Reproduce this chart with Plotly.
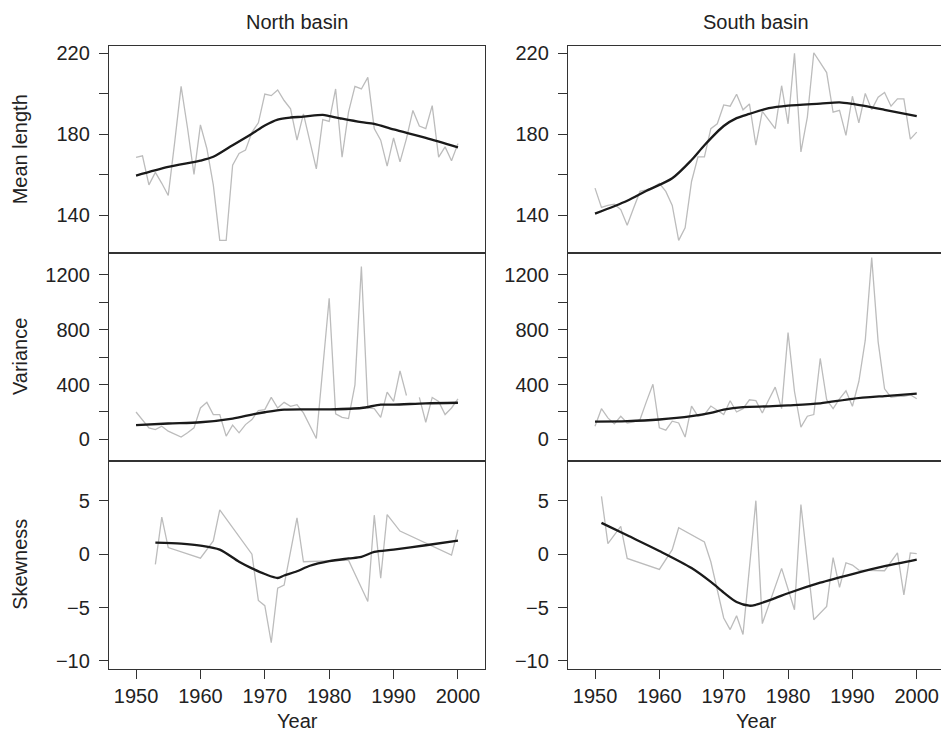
import plotly.graph_objects as go

# ---------------- data ----------------
years = list(range(1950, 2001))

north_mean = [168.6, 169.4, 155.0, 161.2, 155.8, 149.8, 176.0, 203.7, 183.0, 160.2,
              184.7, 173.0, 155.0, 127.6, 127.6, 164.8, 170.5, 172.2, 181.0, 185.7,
              199.9, 199.1, 201.9, 196.7, 192.6, 177.1, 190.1, 176.2, 162.9, 187.3,
              186.4, 202.4, 168.7, 191.0, 203.7, 202.4, 208.1, 182.8, 177.1, 164.3,
              178.2, 166.4, 177.9, 191.8, 184.1, 182.8, 194.2, 168.7, 173.8, 166.9,
              175.4]
south_mean = [153.4, 143.9, 144.9, 145.5, 142.8, 135.1, 143.6, 151.8, 152.6, 153.7,
              155.8, 151.8, 144.9, 127.6, 133.8, 156.7, 168.9, 168.9, 182.8, 185.2,
              194.5, 193.9, 199.8, 192.1, 195.0, 174.6, 191.3, 186.9, 182.8, 204.0,
              185.2, 220.0, 171.3, 188.5, 220.3, 215.4, 210.5, 190.9, 191.8, 179.5,
              198.8, 185.7, 200.2, 192.2, 198.3, 200.7, 193.9, 197.5, 197.5, 177.6,
              181.1]
north_var = [200, 140, 84, 72, 96, 60, 36, 17, 48, 84,
             229, 270, 181, 181, 24, 104, 48, 108, 145, 210,
             217, 306, 229, 270, 241, 253, 193, 96, 7, 518,
             1029, 186, 161, 152, 398, 1260, 229, 224, 161, 345,
             277, 499, 320, None, 306, 125, 306, 277, 181, 229,
             296]
south_var = [96, 224, 157, 113, 169, 120, 128, 145, 277, 402,
             84, 67, 133, 120, 17, 243, 169, 181, 243, 210,
             181, 282, 200, 224, 289, 282, 193, 289, 381, 224,
             778, 349, 89, 169, 181, 590, 289, 224, 296, 354,
             241, 422, 723, 1325, 711, 369, 306, 313, 313, 325,
             296]

north_skew_years = [1953, 1954, 1955, 1960, 1962, 1963, 1968, 1969, 1970, 1971, 1972,
                    1973, 1975, 1976, 1983, 1986, 1987, 1988, 1989, 1991, 1999, 2000]
north_skew = [-0.96, 3.47, 0.62, -0.37, 1.24, 4.15, 0.0, -4.34, -4.83, -8.3, -3.19,
              -2.9, 3.4, -0.71, -0.56, -4.43, 3.66, -2.26, 3.72, 2.17, -0.09, 2.29]
south_skew_years = [1951, 1952, 1954, 1955, 1960, 1962, 1963, 1967, 1968, 1970, 1971,
                    1972, 1973, 1975, 1976, 1979, 1981, 1982, 1984, 1986, 1987, 1988,
                    1989, 1990, 1991, 1992, 1995, 1997, 1998, 1999, 2000]
south_skew = [5.42, 0.99, 2.6, -0.4, -1.43, 0.43, 2.48, 1.15, -0.71, -5.98, -7.07,
              -5.77, -7.53, 5.02, -6.51, -1.33, -5.21, 4.65, -6.14, -4.9, -0.31, -3.1,
              -0.8, -1.02, -1.49, -1.49, -1.55, 0.12, -3.81, 0.12, 0.06]

# smoothed trends
nm_s_years = [1950, 1955, 1960, 1962, 1965, 1968, 1970, 1972, 1974, 1976, 1979, 1980,
              1982, 1985, 1987, 1990, 1995, 2000]
nm_s = [159.6, 163.9, 167.0, 168.9, 174.6, 180.3, 184.4, 187.3, 188.3, 188.7, 189.6,
        189.0, 187.7, 186.0, 185.2, 182.4, 178.2, 173.5]
sm_s_years = [1950, 1955, 1958, 1962, 1965, 1967, 1970, 1972, 1974, 1977, 1980, 1985,
              1988, 1990, 1995, 2000]
sm_s = [140.8, 147.2, 152.1, 158.3, 167.3, 174.6, 184.1, 188.0, 190.1, 192.9, 194.2,
        195.2, 195.8, 195.0, 192.1, 189.0]
nv_s_years = [1950, 1955, 1960, 1965, 1968, 1970, 1973, 1980, 1985, 1988, 1990, 1995, 2000]
nv_s = [104, 116, 125, 152, 181, 198, 217, 219, 229, 253, 253, 263, 267]
sv_s_years = [1950, 1955, 1960, 1965, 1968, 1970, 1973, 1977, 1980, 1985, 1990, 1995, 2000]
sv_s = [130, 133, 145, 169, 193, 217, 236, 241, 248, 263, 296, 316, 333]
ns_s_years = [1953, 1957, 1960, 1963, 1966, 1968, 1970, 1972, 1973, 1975, 1977, 1980,
              1983, 1985, 1987, 1990, 1995, 2000]
ns_s = [1.08, 0.99, 0.81, 0.43, -0.71, -1.33, -1.86, -2.23, -2.0, -1.6, -1.08, -0.65,
        -0.4, -0.25, 0.22, 0.43, 0.84, 1.27]
ss_s_years = [1951, 1955, 1960, 1965, 1968, 1970, 1972, 1974, 1975, 1978, 1980, 1985,
              1990, 1995, 2000]
ss_s = [2.94, 1.77, 0.3, -1.3, -2.6, -3.6, -4.49, -4.83, -4.74, -4.12, -3.66, -2.67,
        -1.86, -1.12, -0.5]

col_titles = ["North basin", "South basin"]
row_titles = ["Mean length", "Variance", "Skewness"]
x_ticks = [1950, 1960, 1970, 1980, 1990, 2000]

# ---------------- figure ----------------
W, H = 941, 734
GREY = "#bcbcbc"
BLACK = "#1a1a1a"
AX = "#333333"
FONT = "Liberation Sans, Arial, Helvetica, sans-serif"
FS = 20

col_px = [(109, 485), (568, 941)]
row_px = [(43, 252), (252, 462), (462, 671)]
x_ranges = [[1945.8, 2004.2], [1945.8, 2003.77]]
y_ranges = [[121.4, 223.8], [-159, 1359], [-10.72, 8.72]]
y_tickvals = [[140, 160, 180, 200, 220],
              [0, 200, 400, 600, 800, 1000, 1200],
              [-10, -5, 0, 5]]
y_ticktext = [["140", "", "180", "", "220"],
              ["0", "", "400", "", "800", "", "1200"],
              ["\u221210", "\u22125", "0", "5"]]

panels = [
    [(years, north_mean, nm_s_years, nm_s), (years, south_mean, sm_s_years, sm_s)],
    [(years, north_var, nv_s_years, nv_s), (years, south_var, sv_s_years, sv_s)],
    [(north_skew_years, north_skew, ns_s_years, ns_s),
     (south_skew_years, south_skew, ss_s_years, ss_s)],
]

fig = go.Figure()
layout = dict(width=W, height=H, autosize=False,
              margin=dict(l=0, r=0, t=0, b=0),
              paper_bgcolor="white", plot_bgcolor="white",
              showlegend=False,
              font=dict(family=FONT, size=FS, color="#222222"))

for r in range(3):
    for c in range(2):
        idx = r * 2 + c + 1
        xa = "x" if idx == 1 else f"x{idx}"
        ya = "y" if idx == 1 else f"y{idx}"
        gx, gy, sx, sy = panels[r][c]
        fig.add_trace(go.Scatter(x=gx, y=gy, mode="lines", xaxis=xa, yaxis=ya,
                                 line=dict(color=GREY, width=1.3),
                                 connectgaps=False, hoverinfo="skip"))
        fig.add_trace(go.Scatter(x=sx, y=sy, mode="lines", xaxis=xa, yaxis=ya,
                                 line=dict(color=BLACK, width=2.3, shape="spline",
                                           smoothing=0.8),
                                 hoverinfo="skip"))
        x0, x1 = col_px[c]
        t, b = row_px[r]
        bottom = (r == 2)
        layout["xaxis" if idx == 1 else f"xaxis{idx}"] = dict(
            domain=[x0 / W, min(x1 / W, 1.0)],
            range=x_ranges[c], anchor=ya,
            showline=True, mirror=True, linecolor=AX, linewidth=1.3,
            showgrid=False, zeroline=False,
            ticks="outside" if bottom else "", ticklen=9, tickwidth=1.3,
            tickcolor=AX,
            tickvals=x_ticks, showticklabels=bottom,
            tickfont=dict(size=FS, color="#222222"),
        )
        layout["yaxis" if idx == 1 else f"yaxis{idx}"] = dict(
            domain=[1 - b / H, 1 - t / H],
            range=y_ranges[r], anchor=xa,
            showline=True, mirror=(c == 0), linecolor=AX, linewidth=1.3,
            showgrid=False, zeroline=False,
            ticks="outside", ticklen=9, tickwidth=1.3, tickcolor=AX,
            ticklabelstandoff=5,
            tickvals=y_tickvals[r], ticktext=y_ticktext[r],
            tickfont=dict(size=FS, color="#222222"),
        )

ann = []
for c in range(2):
    cx = (col_px[c][0] + (col_px[0][1] - col_px[0][0]) / 2) / W
    ann.append(dict(text=col_titles[c], x=cx, y=1 - 19.5 / H, xref="paper", yref="paper",
                    xanchor="center", yanchor="middle", showarrow=False,
                    font=dict(size=FS, color="#222222")))
    ann.append(dict(text="Year", x=cx, y=1 - 724 / H, xref="paper", yref="paper",
                    xanchor="center", yanchor="middle", showarrow=False,
                    font=dict(size=FS, color="#222222")))
for r in range(3):
    cy = 1 - (row_px[r][0] + row_px[r][1]) / 2 / H
    ann.append(dict(text=row_titles[r], x=20 / W, y=cy, xref="paper", yref="paper",
                    xanchor="center", yanchor="middle", showarrow=False, textangle=-90,
                    font=dict(size=FS, color="#222222")))
layout["annotations"] = ann

fig.update_layout(**layout)
fig.write_html("out.html")
